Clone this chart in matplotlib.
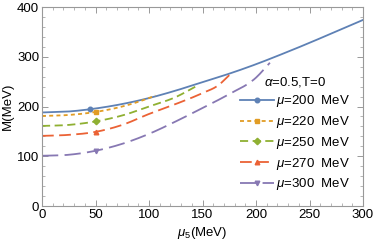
import matplotlib
matplotlib.use("Agg")
import matplotlib.pyplot as plt
from matplotlib.ticker import MultipleLocator
import numpy as np

plt.rcParams['font.family'] = ['Liberation Sans', 'DejaVu Sans']
plt.rcParams['mathtext.fontset'] = 'custom'
plt.rcParams['mathtext.it'] = 'Liberation Sans:italic'
plt.rcParams['mathtext.rm'] = 'Liberation Sans'

# data
mu5_200 = [0, 25, 50, 75, 100, 125, 150, 175, 200, 225, 250, 275, 300]
M_200 = [188, 190, 196, 205, 217, 232, 249, 266, 285, 306, 328, 351, 374]
mu5_220 = [0, 25, 50, 75, 100, 106]
M_220 = [181, 183, 189, 200, 217, 222]
mu5_250 = [0, 25, 50, 75, 100, 125, 146]
M_250 = [161, 163, 170, 182, 200, 219, 243]
mu5_270 = [0, 25, 50, 75, 100, 125, 150, 165, 175]
M_270 = [141, 143, 149, 163, 185, 205, 227, 243, 263]
mu5_300 = [0, 25, 50, 75, 100, 125, 150, 175, 200, 213]
M_300 = [101, 103, 111, 125, 145, 170, 197, 225, 258, 288]
labels = [r"$\mu$=200  MeV", r"$\mu$=220  MeV", r"$\mu$=250  MeV",
          r"$\mu$=270  MeV", r"$\mu$=300  MeV"]
legend_title = r"$\alpha$=0.5,T=0"
marker_x = [45, 50, 50, 50, 50]

series = [(mu5_200, M_200), (mu5_220, M_220), (mu5_250, M_250),
          (mu5_270, M_270), (mu5_300, M_300)]
colors = ['#5E81B5', '#E19C24', '#8FB032', '#EB6235', '#8778B3']
styles = ['-', (0, (2.2, 1.8)), (0, (4.5, 2.5)), (0, (6.5, 3.0)), (0, (9, 3.5))]
markers = ['o', 's', 'D', '^', 'v']


def smooth(x, y, n=200):
    """Cubic Hermite curve through the read points (finite-difference tangents)."""
    x = np.asarray(x, float)
    y = np.asarray(y, float)
    m = np.gradient(y, x)
    xs = np.linspace(x[0], x[-1], n)
    idx = np.clip(np.searchsorted(x, xs) - 1, 0, len(x) - 2)
    h = x[idx + 1] - x[idx]
    t = (xs - x[idx]) / h
    h00 = 2 * t**3 - 3 * t**2 + 1
    h10 = t**3 - 2 * t**2 + t
    h01 = -2 * t**3 + 3 * t**2
    h11 = t**3 - t**2
    ys = h00 * y[idx] + h10 * h * m[idx] + h01 * y[idx + 1] + h11 * h * m[idx + 1]
    return xs, ys


fig = plt.figure(figsize=(3.74, 2.44), dpi=100)
ax = fig.add_axes([0.1123, 0.1557, 0.8583, 0.8156])

handles = []
for (x, y), c, ls, mk, lab, mx in zip(series, colors, styles, markers, labels, marker_x):
    xs, ys = smooth(x, y)
    ax.plot(xs, ys, color=c, ls=ls, lw=1.3)
    my = np.interp(mx, xs, ys)
    ax.plot([mx], [my], marker=mk, color=c, ms=3.3, ls='none')
    h, = ax.plot([], [], color=c, ls=ls, lw=1.3, marker=mk, ms=3.3)
    handles.append(h)

ax.set_xlim(0, 300)
ax.set_ylim(0, 400)
ax.xaxis.set_major_locator(MultipleLocator(50))
ax.xaxis.set_minor_locator(MultipleLocator(10))
ax.yaxis.set_major_locator(MultipleLocator(100))
ax.yaxis.set_minor_locator(MultipleLocator(20))
ax.tick_params(which='both', direction='in', top=True, right=True, color='#999999',
               labelsize=9.5, pad=2)
ax.tick_params(which='major', length=4, width=0.7)
ax.tick_params(which='minor', length=2, width=0.5)
for s in ax.spines.values():
    s.set_color('#999999')
    s.set_linewidth(0.8)
ax.set_xlabel(r"$\mu_5$(MeV)", fontsize=9.5, labelpad=3)
ax.set_ylabel("M(MeV)", fontsize=9.5, labelpad=2)

leg = ax.legend(handles, labels, loc='upper right', bbox_to_anchor=(0.96, 0.66),
                frameon=False, fontsize=9.5, handlelength=2.6, handletextpad=0.15,
                labelspacing=0.36, borderaxespad=0, borderpad=0, numpoints=1,
                title=legend_title, title_fontsize=9.5)

fig.savefig("out.png", dpi=100)
